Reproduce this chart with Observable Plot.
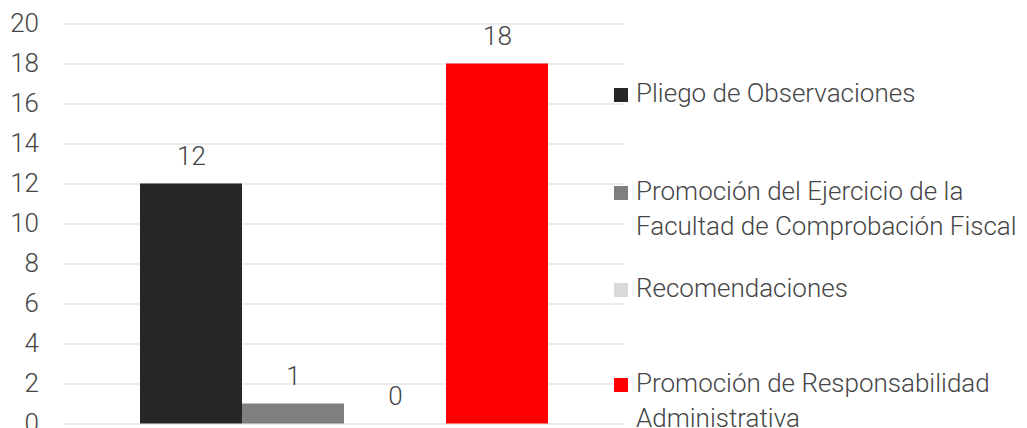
<!DOCTYPE html>
<html>
<head>
<meta charset="utf-8">
<script src="https://cdn.jsdelivr.net/npm/d3@7"></script>
<script src="https://cdn.jsdelivr.net/npm/@observablehq/plot@0.6"></script>
<style>
  html, body { margin: 0; padding: 0; background: #fff; overflow: hidden; }
  #wrap { position: relative; width: 1027px; height: 428px; font-family: Roboto, "Noto Sans", sans-serif; font-weight: 300; color: #454545; }
  #chart { position: absolute; left: 0; top: 0; }
  .sw { position: absolute; width: 14px; height: 14px; }
  .lg { position: absolute; font-size: 26px; line-height: 35px; white-space: nowrap; }
</style>
</head>
<body>
<div id="wrap"><div id="chart"></div></div>
<script>
const series = [
  "Pliego de Observaciones",
  "Promoción del Ejercicio de la Facultad de Comprobación Fiscal",
  "Recomendaciones",
  "Promoción de Responsabilidad Administrativa"
];
const legendLines = [
  ["Pliego de Observaciones"],
  ["Promoción del Ejercicio de la", "Facultad de Comprobación Fiscal"],
  ["Recomendaciones"],
  ["Promoción de Responsabilidad", "Administrativa"]
];
const values = [12, 1, 0, 18];
const colors = ["#262626", "#7f7f7f", "#d9d9d9", "#ff0000"];
const yTicks = [0, 2, 4, 6, 8, 10, 12, 14, 16, 18, 20];

const data = series.map((s, i) => ({series: s, value: values[i]}));

const chart = Plot.plot({
  width: 1027,
  height: 428,
  marginLeft: 63.5,
  marginRight: 402.5,
  marginTop: 23.5,
  marginBottom: 4.5,
  style: {fontFamily: "Roboto, 'Noto Sans', sans-serif", fontWeight: 300, color: "#454545", background: "transparent", overflow: "visible"},
  x: {domain: series, paddingInner: 0, paddingOuter: 0.75, axis: null},
  y: {domain: [0, 20], axis: null},
  color: {domain: series, range: colors},
  marks: [
    Plot.gridY(yTicks, {stroke: "#d9d9d9", strokeOpacity: 1, strokeWidth: 1}),
    Plot.axisY(yTicks, {tickSize: 0, tickPadding: 25, fontSize: 26, label: null, tickFormat: d => String(d), fill: "#454545"}),
    Plot.barY(data, {x: "series", y: "value", fill: "series", inset: 0}),
    Plot.text(data, {x: "series", y: "value", text: d => String(d.value), dy: -19, lineAnchor: "bottom", fontSize: 26, fill: "#454545"})
  ]
});
document.getElementById("chart").appendChild(chart);

// Legend (HTML, to the right of the plot)
const wrap = document.getElementById("wrap");
const baselines = [102, 200, 297, 392];
legendLines.forEach((lines, i) => {
  const sw = document.createElement("div");
  sw.className = "sw";
  sw.style.left = "614px";
  sw.style.top = (baselines[i] - 14) + "px";
  sw.style.background = colors[i];
  wrap.appendChild(sw);
  const t = document.createElement("div");
  t.className = "lg";
  t.style.left = "636px";
  t.style.top = (baselines[i] - 26) + "px";
  t.innerHTML = lines.join("<br>");
  wrap.appendChild(t);
});
</script>
</body>
</html>
